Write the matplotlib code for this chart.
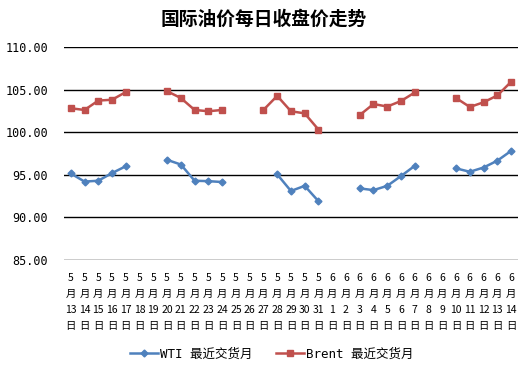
import numpy as np
import matplotlib.pyplot as plt

plt.rcParams['font.family'] = ['Noto Sans CJK SC', 'DejaVu Sans']

# dates 5/13 .. 6/14, weekends / holidays have no value
months = [5] * 19 + [6] * 14
days = list(range(13, 32)) + list(range(1, 15))

nan = np.nan
wti = [95.15, 94.2, 94.3, 95.2, 96.0, nan, nan, 96.75, 96.2, 94.3, 94.25, 94.15,
       nan, nan, nan, 95.05, 93.1, 93.7, 91.9, nan, nan, 93.4, 93.2, 93.7, 94.85,
       96.05, nan, nan, 95.75, 95.35, 95.85, 96.65, 97.8]
brent = [102.8, 102.6, 103.7, 103.8, 104.7, nan, nan, 104.8, 104.0, 102.6, 102.45, 102.6,
         nan, nan, 102.6, 104.25, 102.45, 102.2, 100.3, nan, nan, 102.0, 103.3, 103.0, 103.65,
         104.65, nan, nan, 104.0, 102.95, 103.5, 104.3, 105.9]

labels = [f"{m}\n月\n{d}\n日" for m, d in zip(months, days)]
x = np.arange(len(days))

fig = plt.figure(figsize=(5.28, 3.72), dpi=100)
ax = fig.add_axes([0.121, 0.301, 0.86, 0.573])

ax.plot(x, wti, color='#4F81BD', marker='D', markersize=3.5, linewidth=1.8,
        label='WTI 最近交货月')
ax.plot(x, brent, color='#C0504D', marker='s', markersize=5, linewidth=1.8,
        label='Brent 最近交货月')

ax.set_ylim(85, 110)
ax.set_yticks(np.arange(85, 111, 5))
ax.set_yticklabels([f"{v:.2f}" for v in np.arange(85, 111, 5)], fontsize=8.5,
                   family=['DejaVu Sans Mono'])
ax.set_xlim(-0.5, len(days) - 0.5)
ax.set_xticks(x)
ax.set_xticklabels(labels, fontsize=7.5, linespacing=1.75)
ax.tick_params(length=0, pad=9)
ax.tick_params(axis='y', pad=11.5)
ax.grid(axis='y', color='black', linewidth=1)
ax.set_axisbelow(True)
for s in ax.spines.values():
    s.set_visible(False)

fig.suptitle('国际油价每日收盘价走势', fontsize=13.5, fontweight='bold', y=0.975)
fig.legend(loc='lower center', ncol=2, frameon=False,
           prop={'family': ['DejaVu Sans Mono', 'Noto Sans CJK SC'], 'size': 9},
           bbox_to_anchor=(0.515, 0.0), handlelength=2.2, handletextpad=0.2,
           columnspacing=1.9)

fig.savefig('out.png')
